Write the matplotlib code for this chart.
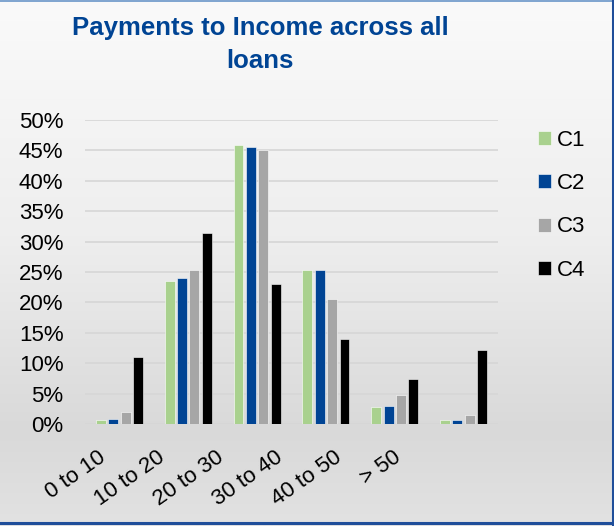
import matplotlib
matplotlib.use("Agg")
import matplotlib.pyplot as plt
import numpy as np
from matplotlib.colors import LinearSegmentedColormap
from matplotlib.transforms import ScaledTranslation, blended_transform_factory
from matplotlib.lines import Line2D

plt.rcParams['font.family'] = ['Liberation Sans', 'DejaVu Sans']

categories = ["0 to 10", "10 to 20", "20 to 30", "30 to 40", "40 to 50", "> 50"]
series_names = ["C1", "C2", "C3", "C4"]
c1 = [0.7, 23.6, 45.9, 25.4, 2.8, 0.65]
c2 = [0.8, 24.0, 45.5, 25.3, 2.9, 0.6]
c3 = [1.9, 25.4, 45.1, 20.6, 4.7, 1.4]
c4 = [11.1, 31.4, 23.1, 14.0, 7.4, 12.1]
series = [c1, c2, c3, c4]
colors = ["#a9d18e", "#004494", "#a6a6a6", "#000000"]
yticks = [0, 5, 10, 15, 20, 25, 30, 35, 40, 45, 50]

W, H = 614, 526
dpi = 100
fig = plt.figure(figsize=(W / dpi, H / dpi), dpi=dpi)

# background gradient
bg = fig.add_axes([0, 0, 1, 1], zorder=-10)
cmap = LinearSegmentedColormap.from_list(
    "bg", [(0.0, "#fafafa"), (0.45, "#eeeeee"), (0.82, "#d9d9d9"), (1.0, "#e2e2e2")])
grad = np.linspace(0, 1, 256).reshape(-1, 1)
bg.imshow(grad, aspect="auto", cmap=cmap, extent=[0, 1, 0, 1], origin="upper")
bg.set_axis_off()

ax = fig.add_axes([85 / W, 1 - 424 / H, (498 - 85) / W, (424 - 120) / H])
ax.patch.set_alpha(0)

x = np.arange(len(categories)) + 0.5
bw = 0.145
step = 0.18
for k, (vals, col, name) in enumerate(zip(series, colors, series_names)):
    ax.bar(x + (k - 1.5) * step, vals, width=bw, color=col, label=name,
           edgecolor="white", linewidth=0.4, zorder=3)

ax.set_xlim(0, len(categories))
ax.set_ylim(0, 50)
ax.set_yticks(yticks)
ax.set_yticklabels([f"{v}%" for v in yticks], fontsize=16)
ax.tick_params(axis='y', length=0, pad=15.5)
ax.set_xticks([])
ax.yaxis.grid(True, color="#d6d6d6", linewidth=1.2, zorder=0)
for s in ax.spines.values():
    s.set_visible(False)

# category labels (Excel-style rotated labels)
trans = blended_transform_factory(ax.transData, ax.transAxes)
for i, lab in enumerate(categories):
    dx = -(16 + 9.8 * i)
    off = ScaledTranslation(dx / dpi, -31 / dpi, fig.dpi_scale_trans)
    ax.text(x[i], 0, lab, transform=trans + off, rotation=35, ha="right", va="center",
            rotation_mode="anchor", fontsize=16, color="#000000")

# legend
leg = ax.legend(loc="upper left", bbox_to_anchor=(538 / W, 1 - 130 / H),
                bbox_transform=fig.transFigure, frameon=False, fontsize=16,
                handlelength=0.6, handleheight=0.6, handletextpad=0.25,
                labelspacing=1.0, borderpad=0, borderaxespad=0)

# title
fig.text(260 / W, 1 - 16 / H, "Payments to Income across all\nloans", ha="center", va="top",
         fontsize=18.5, fontweight="bold", color="#004494", linespacing=1.45)

# border
fig.add_artist(Line2D([0, 1], [1 - 0.5 / H, 1 - 0.5 / H], transform=fig.transFigure,
                      color="#6a96c8", linewidth=1.2))
fig.add_artist(Line2D([1 - 1.5 / W, 1 - 1.5 / W], [0, 1], transform=fig.transFigure,
                      color="#1f4e9a", linewidth=2.2))
fig.add_artist(Line2D([0, 1], [3 / H, 3 / H], transform=fig.transFigure,
                      color="#1f4e9a", linewidth=2.2))

fig.savefig("out.png", dpi=dpi)
